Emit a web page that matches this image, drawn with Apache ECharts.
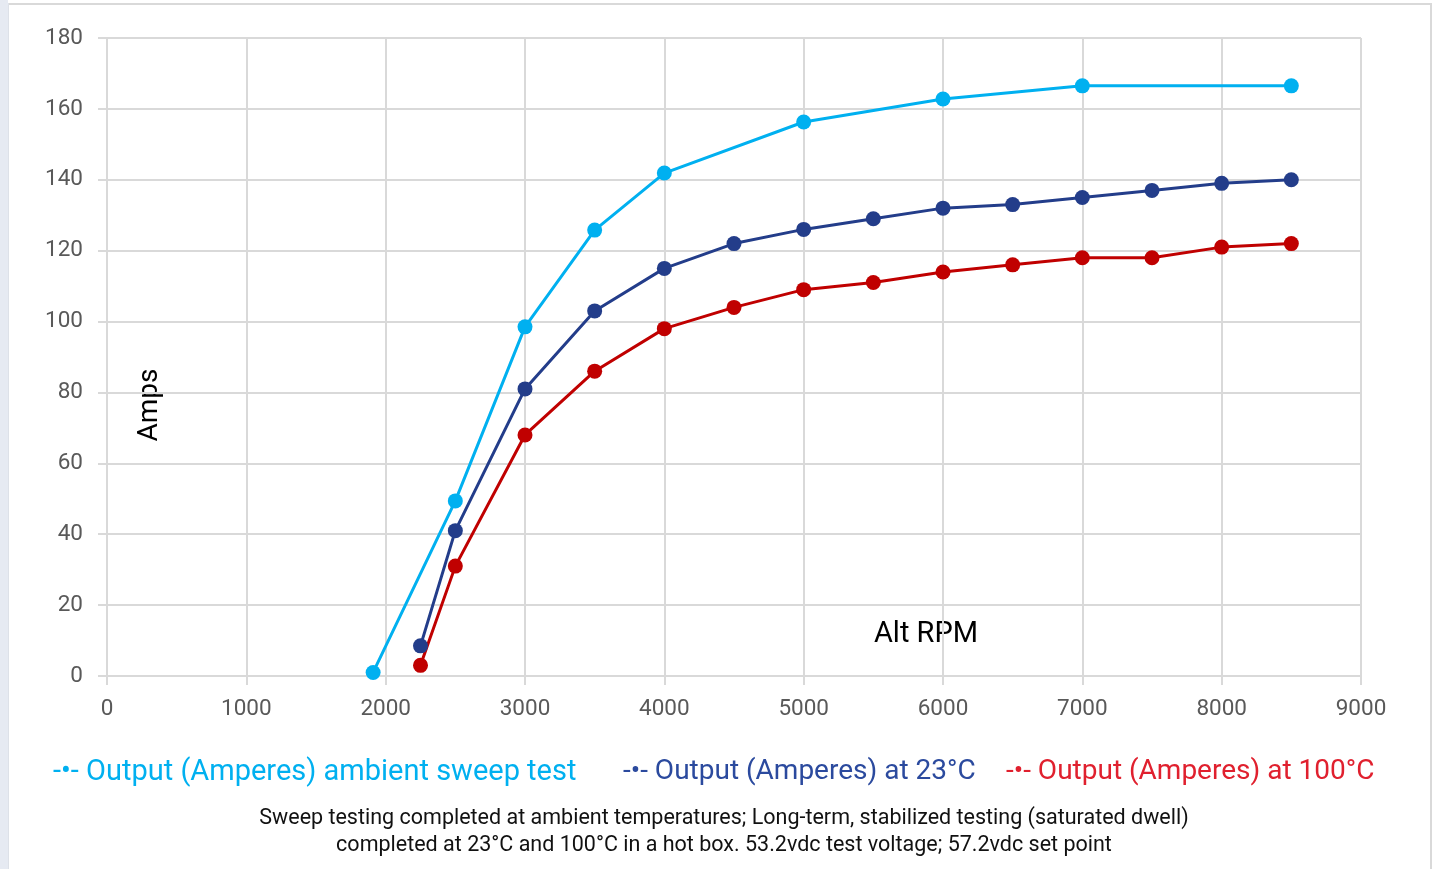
<!DOCTYPE html>
<html>
<head>
<meta charset="utf-8">
<script src="https://cdn.jsdelivr.net/npm/echarts@6/dist/echarts.min.js"></script>
<style>
html,body{margin:0;padding:0;background:#fff;}
#c{width:1434px;height:869px;}
</style>
</head>
<body>
<div id="c"></div>
<script>
const seriesNames = ['Output (Amperes) ambient sweep test', 'Output (Amperes) at 23°C', 'Output (Amperes) at 100°C'];
const ambientRPM = [1910, 2500, 3000, 3500, 4000, 5000, 6000, 7000, 8500];
const ambientAmps = [1, 49.4, 98.5, 125.8, 141.9, 156.3, 162.8, 166.5, 166.5];
const hotRPM = [2250, 2500, 3000, 3500, 4000, 4500, 5000, 5500, 6000, 6500, 7000, 7500, 8000, 8500];
const amps23 = [8.5, 41, 81, 103, 115, 122, 126, 129, 132, 133, 135, 137, 139, 140];
const amps100 = [3, 31, 68, 86, 98, 104, 109, 111, 114, 116, 118, 118, 121, 122];
const xTicks = [0, 1000, 2000, 3000, 4000, 5000, 6000, 7000, 8000, 9000];
const yTicks = [0, 20, 40, 60, 80, 100, 120, 140, 160, 180];
const footnote = 'Sweep testing completed at ambient temperatures; Long-term, stabilized testing (saturated dwell)\ncompleted at 23°C and 100°C in a hot box. 53.2vdc test voltage; 57.2vdc set point';

const lineColors = ['#00B0F0', '#233D8A', '#C00000'];
const legendColors = ['#00B0F0', '#2B4A9E', '#E0202E'];
const legendLefts = [48, 618, 1001];
const legendSizes = [29, 28, 28];

const zip = (xs, ys) => xs.map((x, i) => [x, ys[i]]);

const chart = echarts.init(document.getElementById('c'), null, {renderer: 'canvas'});
const axisGray = '#d9d9d9';
const labelFont = 'Roboto, "Liberation Sans", sans-serif';

function mkSeries(name, data, color) {
  return {
    name: name, type: 'line', data: data,
    symbol: 'circle', symbolSize: 15,
    lineStyle: {color: color, width: 3},
    itemStyle: {color: color},
    animation: false
  };
}

chart.setOption({
  animation: false,
  backgroundColor: '#fff',
  grid: {left: 107, right: 73, top: 38, bottom: 193, containLabel: false},
  xAxis: {
    type: 'value', min: xTicks[0], max: xTicks[xTicks.length - 1], interval: 1000,
    axisLine: {show: true, lineStyle: {color: axisGray, width: 2}},
    axisTick: {show: true, length: 9, lineStyle: {color: axisGray, width: 2}},
    splitLine: {show: true, lineStyle: {color: axisGray, width: 2}},
    axisLabel: {color: '#595959', fontSize: 22.5, margin: 22, fontFamily: labelFont, formatter: v => String(v)}
  },
  yAxis: {
    type: 'value', min: yTicks[0], max: yTicks[yTicks.length - 1], interval: 20,
    axisLine: {show: true, lineStyle: {color: axisGray, width: 2}},
    axisTick: {show: true, length: 9, lineStyle: {color: axisGray, width: 2}},
    splitLine: {show: true, lineStyle: {color: axisGray, width: 2}},
    axisLabel: {color: '#595959', fontSize: 22.5, margin: 24, fontFamily: labelFont, formatter: v => String(v)}
  },
  legend: seriesNames.map((n, i) => ({
    top: 758, left: legendLefts[i], padding: 0,
    icon: 'none', itemWidth: 0, itemHeight: 0,
    data: [{name: n, textStyle: {color: legendColors[i]}}],
    formatter: nm => '-•- ' + nm,
    textStyle: {fontSize: legendSizes[i], fontFamily: labelFont}
  })),
  series: [
    mkSeries(seriesNames[0], zip(ambientRPM, ambientAmps), lineColors[0]),
    mkSeries(seriesNames[1], zip(hotRPM, amps23), lineColors[1]),
    mkSeries(seriesNames[2], zip(hotRPM, amps100), lineColors[2])
  ],
  graphic: [
    {type: 'rect', left: 0, top: 0, shape: {width: 8, height: 869}, style: {fill: '#e6eaf2'}, silent: true},
    {type: 'rect', left: 8, top: 3, shape: {width: 1423, height: 2}, style: {fill: '#d9d9d9'}, silent: true},
    {type: 'rect', left: 1430, top: 3, shape: {width: 2, height: 866}, style: {fill: '#d9d9d9'}, silent: true},
    {type: 'rect', left: 8, top: 3, shape: {width: 1, height: 866}, style: {fill: '#dde1e8'}, silent: true},
    {type: 'text', x: 150, y: 405, rotation: Math.PI / 2,
     style: {text: 'Amps', fill: '#000', fontSize: 28, fontFamily: labelFont, align: 'center', verticalAlign: 'middle'}},
    {type: 'text', x: 926, y: 635,
     style: {text: 'Alt RPM', fill: '#000', fontSize: 29, fontFamily: labelFont, align: 'center', verticalAlign: 'middle'}},
    {type: 'text', x: 724, y: 832,
     style: {text: footnote, fill: '#111', fontSize: 21.5, lineHeight: 27, fontFamily: labelFont, align: 'center', verticalAlign: 'middle'}}
  ]
});
</script>
</body>
</html>
